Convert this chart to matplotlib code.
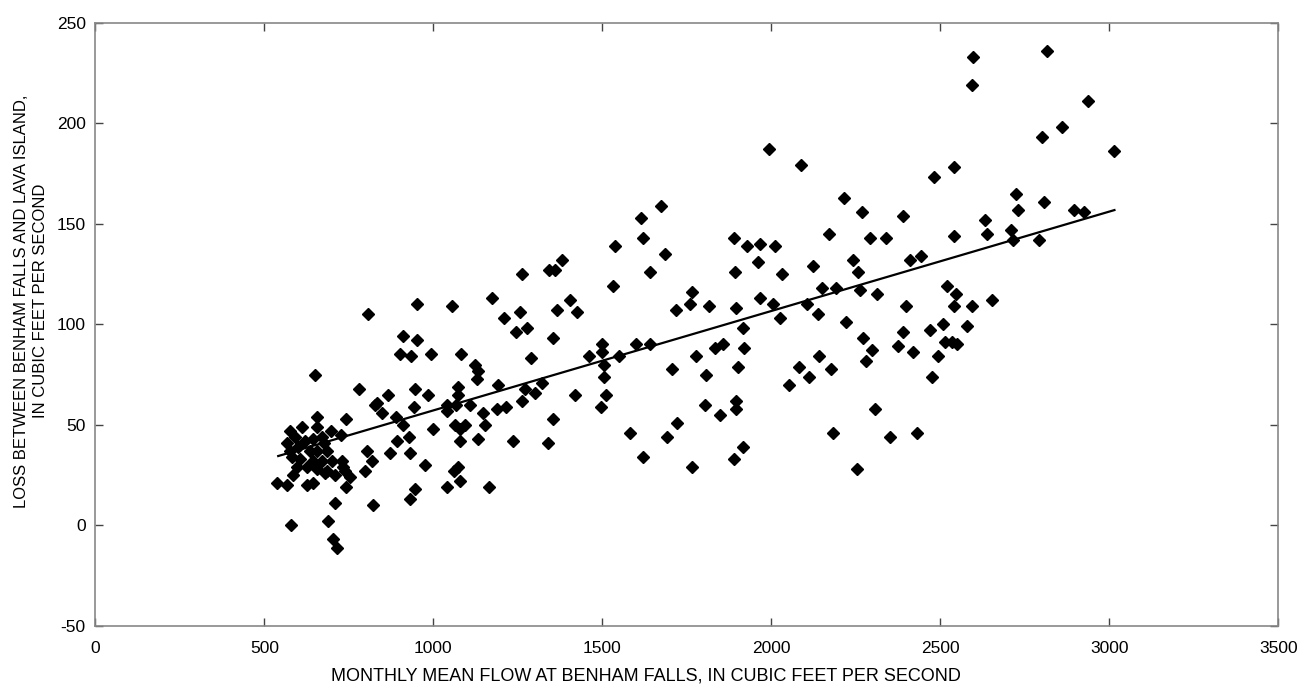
import matplotlib.pyplot as plt

# monthly mean flow at Benham Falls (cfs) and loss to Lava Island (cfs)
flow = [650, 780, 828, 656, 742, 610, 696, 728, 805, 817, 798, 699, 734, 680, 586, 536, 566, 625,
        645, 753, 742, 709, 820, 578, 689, 702, 714,
        576, 591, 620, 645, 670, 675, 566, 576, 600, 635, 655, 685, 581, 606, 645, 670, 729,
        596, 625, 655, 685, 739, 709, 655,
        807, 1261, 951, 1055, 1173, 1210, 1256, 1244, 1277, 911, 951, 900, 935, 994, 1081, 1123,
        1133, 1130, 1192, 946, 985, 867, 1074, 1074, 833, 847, 944, 1039, 1039, 1067, 1109, 1148,
        1187, 1216, 1261, 1272, 890, 911, 999, 1064, 1093, 1079, 1152, 929, 892, 1079, 1133, 1237,
        872, 931, 975, 1060, 1074, 1079, 1041, 1165, 946, 931,
        1673, 1615, 1621, 1537, 1380, 1343, 1360, 1685, 1641, 1530, 1404, 1367, 1426, 1718, 1353,
        1498, 1600, 1641, 1290, 1459, 1498, 1548, 1505, 1505, 1705, 1320, 1301, 1419, 1511, 1496,
        1353, 1340, 1582, 1692, 1722, 1621,
        1993, 2089, 1888, 1927, 1966, 2011, 2172, 1959, 1893, 2030, 2122, 2149, 1765, 1759, 1816,
        1894, 1966, 2006, 2105, 2025, 2137, 1915, 1832, 1858, 1920, 1777, 1900, 1808, 2082, 2140,
        2110, 2177, 2053, 1804, 1894, 1894, 1848, 2183, 1915, 1888, 1765,
        2541, 2482, 2215, 2267, 2390, 2292, 2338, 2541, 2241, 2255, 2410, 2442, 2191, 2261, 2312,
        2520, 2546, 2541, 2593, 2398, 2221, 2272, 2299, 2280, 2390, 2376, 2418, 2469, 2507, 2579,
        2514, 2549, 2534, 2494, 2475, 2306, 2351, 2430, 2252,
        2815, 2596, 2593, 2938, 2860, 2800, 3014, 2723, 2731, 2808, 2896, 2925, 2632, 2637, 2709,
        2716, 2793, 2652]
loss = [75, 68, 60, 54, 53, 49, 47, 45, 37, 32, 27, 32, 29, 26, 25, 21, 20, 20,
        21, 24, 19, 11, 10, 0, 2, -7, -11,
        47, 44, 42, 43, 44, 41, 41, 37, 39, 37, 37, 37, 34, 33, 32, 32, 32,
        29, 29, 28, 27, 27, 25, 49,
        105, 125, 110, 109, 113, 103, 106, 96, 98, 94, 92, 85, 84, 85, 85, 80,
        77, 73, 70, 68, 65, 65, 69, 65, 61, 56, 59, 60, 57, 60, 60, 56,
        58, 59, 62, 68, 54, 50, 48, 50, 50, 48, 50, 44, 42, 42, 43, 42,
        36, 36, 30, 27, 29, 22, 19, 19, 18, 13,
        159, 153, 143, 139, 132, 127, 127, 135, 126, 119, 112, 107, 106, 107, 93,
        90, 90, 90, 83, 84, 86, 84, 80, 74, 78, 71, 66, 65, 65, 59,
        53, 41, 46, 44, 51, 34,
        187, 179, 143, 139, 140, 139, 145, 131, 126, 125, 129, 118, 116, 110, 109,
        108, 113, 110, 110, 103, 105, 98, 88, 90, 88, 84, 79, 75, 79, 84,
        74, 78, 70, 60, 62, 58, 55, 46, 39, 33, 29,
        178, 173, 163, 156, 154, 143, 143, 144, 132, 126, 132, 134, 118, 117, 115,
        119, 115, 109, 109, 109, 101, 93, 87, 82, 96, 89, 86, 97, 100, 99,
        91, 90, 91, 84, 74, 58, 44, 46, 28,
        236, 233, 219, 211, 198, 193, 186, 165, 157, 161, 157, 156, 152, 145, 147,
        142, 142, 112]

# fitted line end points
fit_x = [541, 3015]
fit_y = [34.5, 156.8]

plt.rcParams['font.family'] = ['Liberation Sans', 'DejaVu Sans']
plt.rcParams['axes.unicode_minus'] = False

fig = plt.figure(figsize=(13.01, 6.86), dpi=100)
ax = fig.add_axes([0.0733, 0.0875, 0.9093, 0.8795])

ax.plot(flow, loss, linestyle='none', marker='D', markersize=6.6, color='black')
ax.plot(fit_x, fit_y, color='black', linewidth=1.6)

ax.set_xlim(0, 3500)
ax.set_ylim(-50, 250)
ax.set_xticks(range(0, 3501, 500))
ax.set_yticks(range(-50, 251, 50))
ax.tick_params(direction='in', length=6, width=1, colors='#444444', labelcolor='black',
               labelsize=12.5, top=True, right=True)
ax.tick_params(axis='x', pad=11)
ax.tick_params(axis='y', pad=7)
for s in ax.spines.values():
    s.set_color('#888888')
    s.set_linewidth(1.2)

ax.set_xlabel('MONTHLY MEAN FLOW AT BENHAM FALLS, IN CUBIC FEET PER SECOND', fontsize=13)
ax.set_ylabel('LOSS BETWEEN BENHAM FALLS AND LAVA ISLAND,\nIN CUBIC FEET PER SECOND', fontsize=12,
              linespacing=1.3)
ax.xaxis.set_label_coords(0.4655, -0.068)
ax.yaxis.set_label_coords(-0.040, 0.5385)

fig.savefig('out.png', dpi=100)
